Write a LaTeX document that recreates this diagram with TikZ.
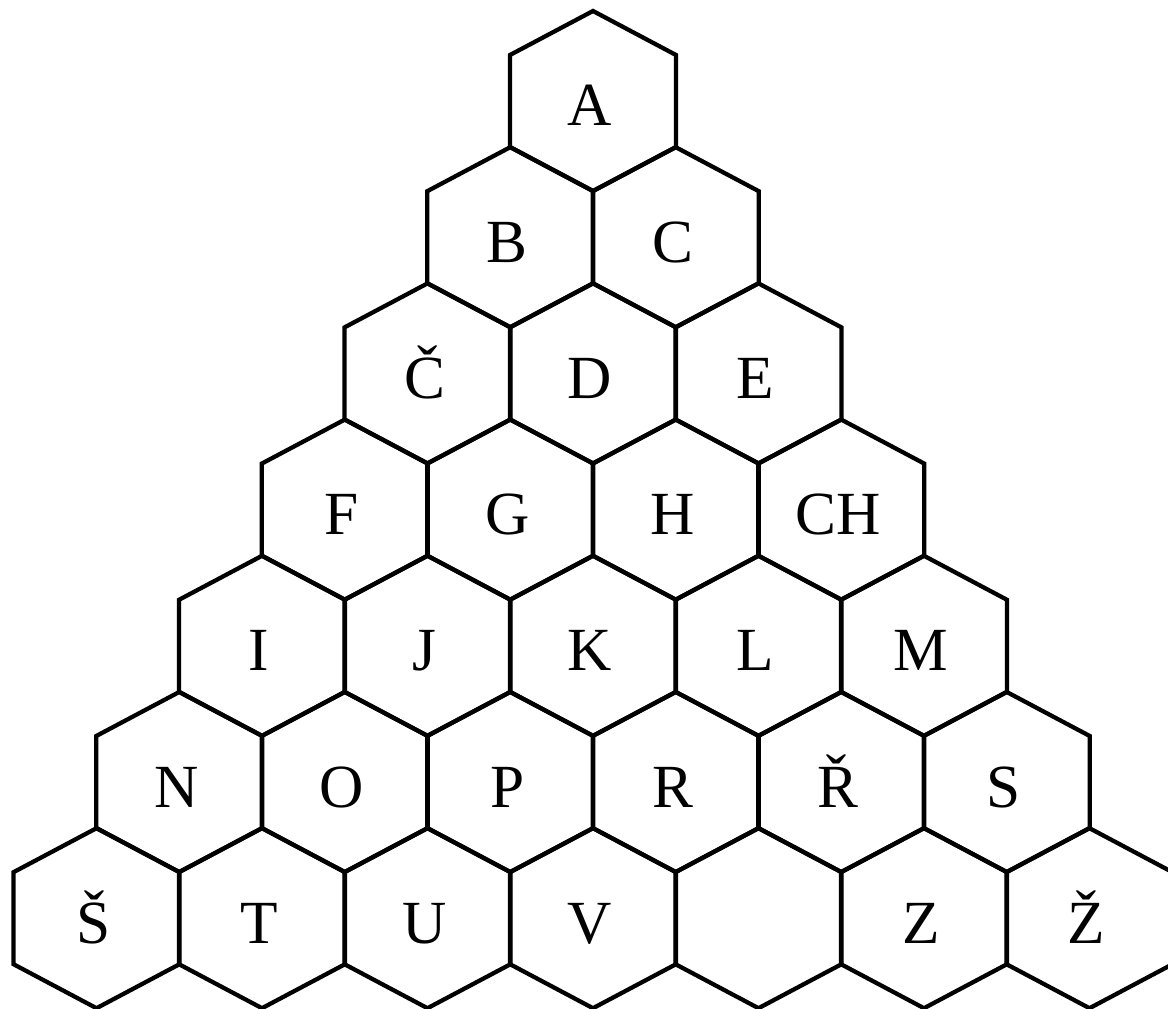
\documentclass[tikz,border=0pt]{standalone}
\usepackage{fontspec}
\setmainfont{Liberation Serif}
\begin{document}
\begin{tikzpicture}[x=0.75pt,y=-0.75pt,
  hexline/.style={line width=3.2pt,line join=miter},
  lbl/.style={font=\fontsize{46}{50}\selectfont,anchor=base,inner sep=0pt}]
\useasboundingbox (0,0) rectangle (1168,1009);
\clip (0,0) rectangle (1168,1009);
\foreach \row [count=\r from 0] in {{A},{B,C},{Č,D,E},{F,G,H,CH},{I,J,K,L,M},{N,O,P,R,Ř,S},{Š,T,U,V,{},Z,Ž}} {
  \foreach \l [count=\k from 0] in \row {
    \pgfmathsetmacro\cx{593+(\k-\r/2)*165.5}
    \pgfmathsetmacro\cy{101+\r*136.2}
    \draw[hexline] (\cx,\cy-90) -- (\cx+83,\cy-46) -- (\cx+83,\cy+46) -- (\cx,\cy+90) -- (\cx-83,\cy+46) -- (\cx-83,\cy-46) -- cycle;
    \node[lbl] (c\r-\k) at (\cx-3,\cy+25) {\l};
  }
}
\end{tikzpicture}
\end{document}
